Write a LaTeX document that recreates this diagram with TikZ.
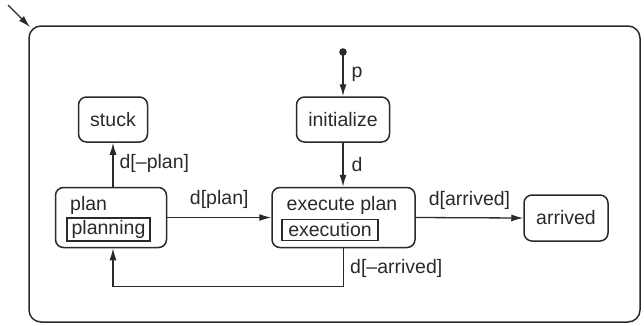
\documentclass[tikz,border=0pt]{standalone}
\usepackage{fontspec}
\setmainfont{Liberation Sans}
\usetikzlibrary{arrows.meta,calc}
\definecolor{ink}{HTML}{2A2A2A}
\tikzset{
  state/.style={draw=ink, line width=1.5pt, rounded corners=8pt, inner sep=0pt, text=ink},
  activity/.style={draw=ink, line width=1.4pt, inner sep=0pt, text=ink},
  trans/.style={draw=ink, line width=1.3pt, -{Latex[length=12pt,width=7pt]}},
  lbl/.style={text=ink, inner sep=0pt},
  txt/.style={font=\fontsize{19.5}{21}\selectfont}
}
\begin{document}
\begin{tikzpicture}[x=1pt,y=-1pt, every node/.style={txt}]
\useasboundingbox (0,0) rectangle (644,325);
% enclosing superstate
\draw[ink, line width=1.5pt, rounded corners=12pt] (29,26) rectangle (640,322);
\coordinate (corner) at (30,27);
\coordinate (start) at (8,5);
\draw[trans] (start) -- (corner);

% states
\node[state, minimum width=69pt, minimum height=45pt] (stuck) at (113,119.5) {stuck};
\node[state, minimum width=93pt, minimum height=45pt] (init) at (343,119.5) {initialize};
\node[state, minimum width=111pt, minimum height=60pt] (plan) at (111,217.5) {};
\node[state, minimum width=143pt, minimum height=60pt] (exec) at (343.5,217.5) {};
\node[state, minimum width=84pt, minimum height=46pt] (arr) at (566,218) {arrived};

% titles and activities inside the composite states
\node[lbl, anchor=west] (plantitle) at (70,205) {plan};
\node[activity, minimum width=83pt, minimum height=23pt] (planning) at (108.5,229.5) {planning};
\node[lbl] (exectitle) at (342,205) {execute plan};
\node[activity, minimum width=96pt, minimum height=21pt] (execution) at (330,230) {execution};

% initial pseudostate
\fill[ink] (343,52) circle (3.8pt);
\coordinate (dot) at (343,52);

% transitions
\draw[trans] (dot) -- (init.north) node[lbl, midway, anchor=west, xshift=8pt] {p};
\draw[trans] (init.south) -- (exec.north -| init.south) node[lbl, midway, anchor=west, xshift=8pt] {d};
\draw[trans] (plan.north -| stuck.south) -- (stuck.south) node[lbl, midway, anchor=west, xshift=6pt, yshift=1pt] {d[–plan]};
\draw[trans] (plan.east) -- (exec.west) node[lbl, midway, above=8pt] {d[plan]};
\draw[trans] (exec.east) -- (arr.west) node[lbl, midway, above=8pt] {d[arrived]};
\coordinate (loopR) at ($(exec.south)+(0,38)$);
\coordinate (loopL) at (loopR -| stuck.south);
\draw[trans] (exec.south) -- (loopR) -- (loopL) -- (plan.south -| stuck.south);
\node[lbl, anchor=west] (arrlbl) at (350,268) {d[–arrived]};
\end{tikzpicture}
\end{document}
